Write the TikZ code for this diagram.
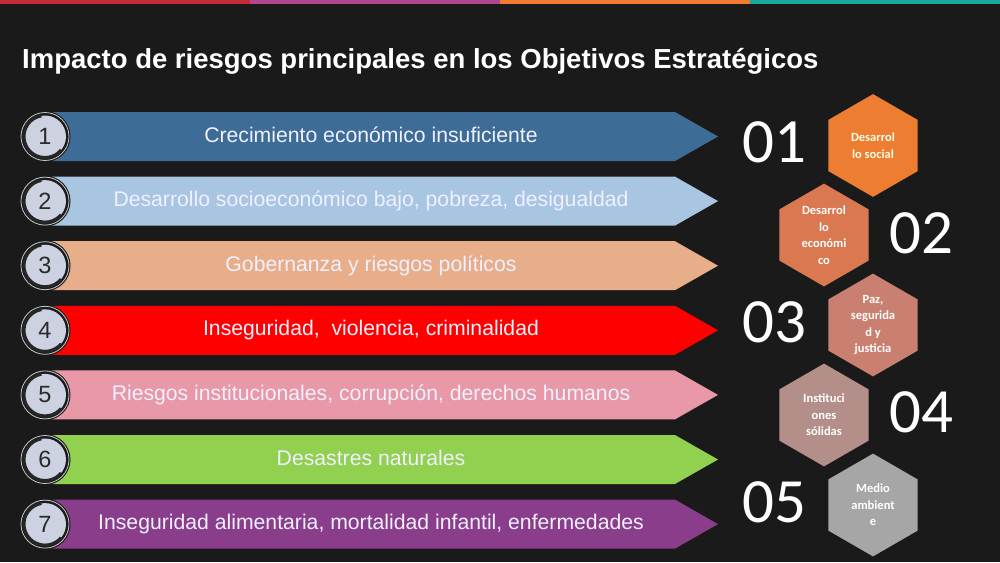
\documentclass[tikz,border=0pt]{standalone}
\usepackage{fontspec}
\setmainfont{Liberation Sans}
\newfontfamily\calfont{Carlito}
\usetikzlibrary{shapes.geometric}
\definecolor{bg}{HTML}{1A1A1A}
\definecolor{stripA}{HTML}{C42A36}
\definecolor{stripB}{HTML}{B0468C}
\definecolor{stripC}{HTML}{F07A30}
\definecolor{stripD}{HTML}{1AA89A}
\definecolor{barA}{HTML}{3D6C96}
\definecolor{barB}{HTML}{A8C5E2}
\definecolor{barC}{HTML}{E8AE8A}
\definecolor{barD}{HTML}{FF0000}
\definecolor{barE}{HTML}{E898A7}
\definecolor{barF}{HTML}{92D050}
\definecolor{barG}{HTML}{8A3D8A}
\definecolor{disc}{HTML}{CDD2E2}
\definecolor{ring}{HTML}{C8C8C8}
\definecolor{numc}{HTML}{2A2A2A}
\definecolor{hexA}{HTML}{ED7D31}
\definecolor{hexB}{HTML}{DA7851}
\definecolor{hexC}{HTML}{C98070}
\definecolor{hexD}{HTML}{B48F8A}
\definecolor{hexE}{HTML}{A6A6A6}
\tikzset{
  bartext/.style={text=white!94!blue, font=\fontsize{21.2}{21.2}\selectfont, anchor=base, inner sep=0pt},
  numtext/.style={text=numc, font=\fontsize{23.5}{23.5}\selectfont, anchor=center, inner sep=0pt},
  hexbox/.style={regular polygon, regular polygon sides=6, shape border rotate=30, minimum size=106pt, inner sep=0pt, draw=bg, line width=2.5pt, text=white, align=center, font=\calfont\bfseries\fontsize{12.5}{16.5}\selectfont},
  bignum/.style={text=white, font=\calfont\fontsize{63}{63}\selectfont, anchor=center, inner sep=0pt},
}
\begin{document}
\begin{tikzpicture}[x=1pt,y=-1pt]
\fill[bg] (0,0) rectangle (1000,562);
\useasboundingbox (0,0) rectangle (1000,562);
% top strip
\fill[stripA] (0,0) rectangle (250,4);
\fill[stripB] (250,0) rectangle (500,4);
\fill[stripC] (500,0) rectangle (750,4);
\fill[stripD] (750,0) rectangle (1000,4);
% title
\node[text=white, font=\bfseries\fontsize{27.5}{27.5}\selectfont, anchor=base west, inner sep=0pt] (title) at (22,68) {Impacto de riesgos principales en los Objetivos Estratégicos};
% bars
\foreach \i/\col/\txt in {
  0/barA/{Crecimiento económico insuficiente},
  1/barB/{Desarrollo socioeconómico bajo, pobreza, desigualdad},
  2/barC/{Gobernanza y riesgos políticos},
  3/barD/{Inseguridad,\ \ violencia, criminalidad},
  4/barE/{Riesgos institucionales, corrupción, derechos humanos},
  5/barF/{Desastres naturales},
  6/barG/{Inseguridad alimentaria, mortalidad infantil, enfermedades}}{
  \pgfmathsetmacro{\yc}{136.5+64.6*\i}
  \fill[\col] (52,\yc-24.5) -- (675,\yc-24.5) -- (718,\yc) -- (675,\yc+24.5) -- (52,\yc+24.5) -- cycle;
  \node[bartext] (bar\i) at (371,\yc+5.5) {\txt};
  \fill[bg] (45,\yc) circle (25.5);
  \draw[ring, line width=0.8pt] (45,\yc) circle (24);
  \fill[disc] (45,\yc) circle (21);
  \draw[black!85, line width=3pt] (45,\yc) ++(-100:21) arc[start angle=-100, end angle=-320, radius=21];
  \pgfmathtruncatemacro{\n}{\i+1}
  \node[numtext] (num\i) at (45,\yc) {\n};
}
% hexagons
\node[hexbox, fill=hexA, text=white!92!yellow] (hex1) at (873,145.5) {Desarrol\\lo social};
\node[hexbox, fill=hexB] (hex2) at (824,235) {Desarrol\\lo\\económi\\co};
\node[hexbox, fill=hexC] (hex3) at (873,325) {Paz,\\segurida\\d y\\justicia};
\node[hexbox, fill=hexD] (hex4) at (824,415) {Instituci\\ones\\sólidas};
\node[hexbox, fill=hexE] (hex5) at (873,505) {Medio\\ambient\\e};
% numbers
\node[bignum] (n1) at (774,142) {01};
\node[bignum] (n2) at (921,233) {02};
\node[bignum] (n3) at (774,322) {03};
\node[bignum] (n4) at (921,412) {04};
\node[bignum] (n5) at (774,502) {05};
\end{tikzpicture}
\end{document}
